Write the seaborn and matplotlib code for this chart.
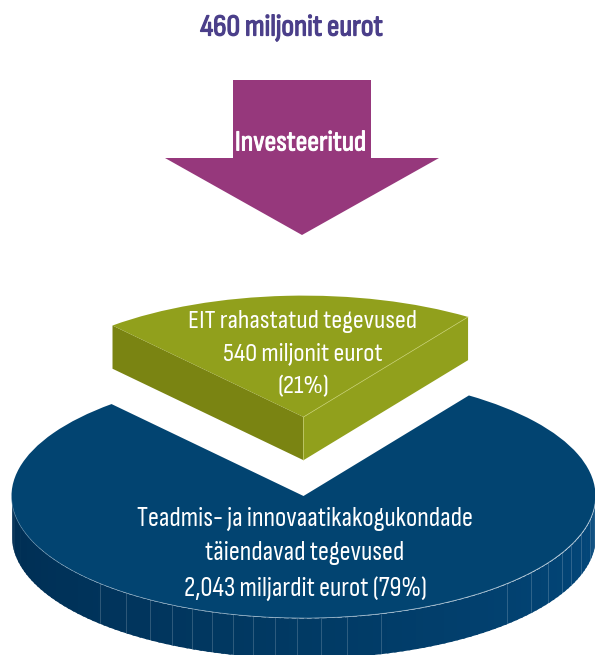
import numpy as np
import matplotlib
matplotlib.use('Agg')
import matplotlib.pyplot as plt
import matplotlib.patheffects as pe
import seaborn as sns

shares = [21, 79]
share_labels = ['EIT rahastatud tegevused\n540 miljonit eurot\n(21%)',
                'Teadmis- ja innovaatikakogukondade\ntäiendavad tegevused\n2,043 miljardit eurot (79%)']
invested_value = '460 miljonit eurot'
invested_label = 'Investeeritud'
rim_ticks = [100, 126, 150, 172, 192, 212, 233, 253, 275, 297, 321, 347, 381,
             507, 531, 548, 562, 571, 581, 590]

BLUE = '#024471'
OLIVE = '#91a01c'
OLIVE_DARK = '#7a8412'
PURPLE = '#96387c'
TITLE = '#4b3f8a'

sns.set_theme(style='white')
plt.rcParams['font.family'] = ['Sofia Sans Condensed', 'Lato', 'DejaVu Sans']

W, H = 595, 655
RX, RY = 292, 122
CX, CY = 303.5, 496
DEPTH = 40 / RY
START = 55.5
LIFT = 79 / RY

fig = plt.figure(figsize=(W / 100, H / 100), dpi=100)
ax = fig.add_axes([0, 0, 1, 1])
ax.set_facecolor('white')

# blue rim first, shaded left to right
n_seg = 120
rim_colors = sns.blend_palette(['#002d52', '#013a64', '#03487c'], n_seg)
angles = np.linspace(np.pi, 2 * np.pi, n_seg + 1)
for i in range(n_seg):
    t = np.linspace(angles[i], angles[i + 1] + 0.01, 4)
    ax.fill_between(np.cos(t), np.sin(t), np.sin(t) - DEPTH, color=rim_colors[i], lw=0, antialiased=False)

for px in rim_ticks:
    x = (px - CX) / RX
    y = -np.sqrt(1 - x ** 2)
    ax.plot([x, x], [y, y - DEPTH], color='white', lw=0.5, alpha=0.25, zorder=2)

wedges, _ = ax.pie(shares, startangle=START, colors=['none', BLUE], radius=1, center=(0, 0),
                   wedgeprops={'lw': 0, 'zorder': 3})
front = np.linspace(np.pi, 2 * np.pi, 200)
ax.plot(np.cos(front), np.sin(front), color='#8fb0c8', lw=0.5, alpha=0.6, zorder=4)

# olive slice, lifted out of the gap
top, _ = ax.pie(shares, startangle=START, colors=[OLIVE, 'none'], radius=0.995, center=(0, LIFT),
                wedgeprops={'lw': 0, 'zorder': 6})
t1, t2 = np.radians(top[0].theta1), np.radians(top[0].theta2)
r = top[0].r
right = np.array([r * np.cos(t1), LIFT + r * np.sin(t1)])
left = np.array([r * np.cos(t2), LIFT + r * np.sin(t2)])
tip = np.array([0, LIFT])
side = DEPTH * 1.08
ax.fill([tip[0], left[0], left[0], tip[0]],
        [tip[1], left[1], left[1] - side, tip[1] - side], color=OLIVE_DARK, lw=0, zorder=5)
ax.fill([tip[0], right[0], right[0], tip[0]],
        [tip[1], right[1], right[1] - side, tip[1] - side], color=OLIVE, lw=0, zorder=5)
ax.plot([right[0], tip[0], tip[0]], [right[1], tip[1], tip[1] - side],
        color='#c3cc6a', lw=0.5, zorder=7)

ax.set_aspect('auto')
ax.set_xlim(-CX / RX, (W - CX) / RX)
ax.set_ylim(-(H - CY) / RY, CY / RY)
ax.axis('off')

# overlay in pixel units for arrow and text
ov = fig.add_axes([0, 0, 1, 1], facecolor='none')
ov.set_xlim(0, W)
ov.set_ylim(H, 0)
ov.axis('off')
ov.fill([233, 371, 371, 439, 302, 165, 233], [80, 80, 158, 158, 235, 158, 158], color=PURPLE, lw=0)

ov.text(291.5, 28, invested_value, color=TITLE, fontsize=22, ha='center', va='center',
        path_effects=[pe.withStroke(linewidth=0.9, foreground=TITLE)])
ov.text(300.5, 143, invested_label, color='white', fontsize=21, ha='center', va='center',
        path_effects=[pe.withStroke(linewidth=0.7, foreground='white')])
ov.text(303, 354, share_labels[0], color='white', fontsize=19.4, ha='center', va='center', linespacing=1.55)
ov.text(305, 554, share_labels[1], color='white', fontsize=19.5, ha='center', va='center', linespacing=1.55)

fig.savefig('out.png', dpi=100)
